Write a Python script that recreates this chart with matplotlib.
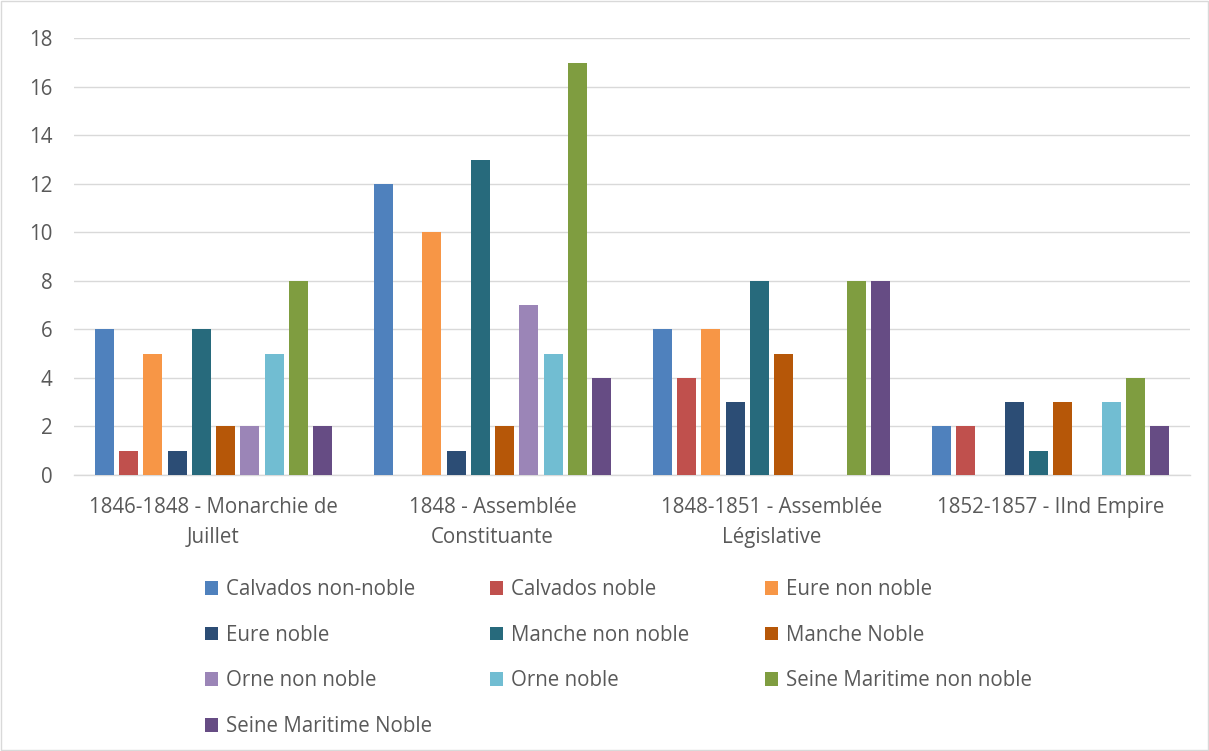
"""Bar chart of Norman deputies by department, nobility and legislature."""

import matplotlib

matplotlib.use("Agg")
import matplotlib.pyplot as plt
import numpy as np
from matplotlib.patches import Patch, Rectangle

plt.rcParams["font.family"] = ["Open Sans", "DejaVu Sans"]

PERIODS = [
    "1846-1848 - Monarchie de\nJuillet",
    "1848 - Assemblée\nConstituante",
    "1848-1851 - Assemblée\nLégislative",
    "1852-1857 - IInd Empire",
]

SERIES = [
    "Calvados non-noble",
    "Calvados noble",
    "Eure non noble",
    "Eure noble",
    "Manche non noble",
    "Manche Noble",
    "Orne non noble",
    "Orne noble",
    "Seine Maritime non noble",
    "Seine Maritime Noble",
]

calvados_non_noble = [6, 12, 6, 2]
calvados_noble = [1, 0, 4, 2]
eure_non_noble = [5, 10, 6, 0]
eure_noble = [1, 1, 3, 3]
manche_non_noble = [6, 13, 8, 1]
manche_noble = [2, 2, 5, 3]
orne_non_noble = [2, 7, 0, 0]
orne_noble = [5, 5, 0, 3]
seine_maritime_non_noble = [8, 17, 8, 4]
seine_maritime_noble = [2, 4, 8, 2]

VALUES = [
    calvados_non_noble,
    calvados_noble,
    eure_non_noble,
    eure_noble,
    manche_non_noble,
    manche_noble,
    orne_non_noble,
    orne_noble,
    seine_maritime_non_noble,
    seine_maritime_noble,
]

COLORS = [
    "#4F81BD",
    "#C0504D",
    "#F79646",
    "#2C4D75",
    "#276A7C",
    "#B65708",
    "#9B85B7",
    "#71BDD2",
    "#7F9D40",
    "#664C84",
]

TEXT = "#595959"
GRID = "#D9D9D9"
FONT_SIZE = 14.8

figure = plt.figure(figsize=(12.09, 7.51), dpi=100)
axis = figure.add_axes([0.0612, 0.3675, 0.9231, 0.5815])
figure.patches.append(
    Rectangle((0.001, 0.001), 0.998, 0.998, transform=figure.transFigure,
              fill=False, edgecolor=GRID, linewidth=1.0)
)

x = np.arange(len(PERIODS))
step = 0.0868
width = 0.068
for index, (name, values, color) in enumerate(zip(SERIES, VALUES, COLORS)):
    offset = (index - (len(SERIES) - 1) / 2.0) * step
    axis.bar(x + offset, values, width=width, color=color, label=name, zorder=3)

axis.set_xlim(-0.5, len(PERIODS) - 0.5)
axis.set_ylim(0, 18)
axis.set_yticks(np.arange(0, 19, 2))
axis.set_xticks(x)
axis.set_xticklabels(PERIODS, linespacing=1.6)
axis.tick_params(axis="both", length=0, labelsize=FONT_SIZE, colors=TEXT)
axis.tick_params(axis="x", pad=15.5)
axis.tick_params(axis="y", pad=15.5)
axis.grid(axis="y", color=GRID, linewidth=1.0, zorder=0)
for side in ("top", "right", "left"):
    axis.spines[side].set_visible(False)
axis.spines["bottom"].set_color(GRID)
axis.spines["bottom"].set_linewidth(1.0)

# three legend columns, filled row by row like the original
columns = [[0, 3, 6, 9], [1, 4, 7], [2, 5, 8]]
anchors = [0.1694, 0.4054, 0.6324]
for column, anchor in zip(columns, anchors):
    handles = [Patch(facecolor=COLORS[i], label=SERIES[i]) for i in column]
    legend = figure.legend(
        handles=handles,
        loc="upper left",
        bbox_to_anchor=(anchor, 0.229),
        frameon=False,
        fontsize=FONT_SIZE,
        handlelength=0.63,
        handleheight=0.63,
        handletextpad=0.39,
        labelspacing=1.2,
        borderpad=0.0,
        borderaxespad=0.0,
    )
    for label in legend.get_texts():
        label.set_color(TEXT)

figure.savefig("out.png", dpi=100)
